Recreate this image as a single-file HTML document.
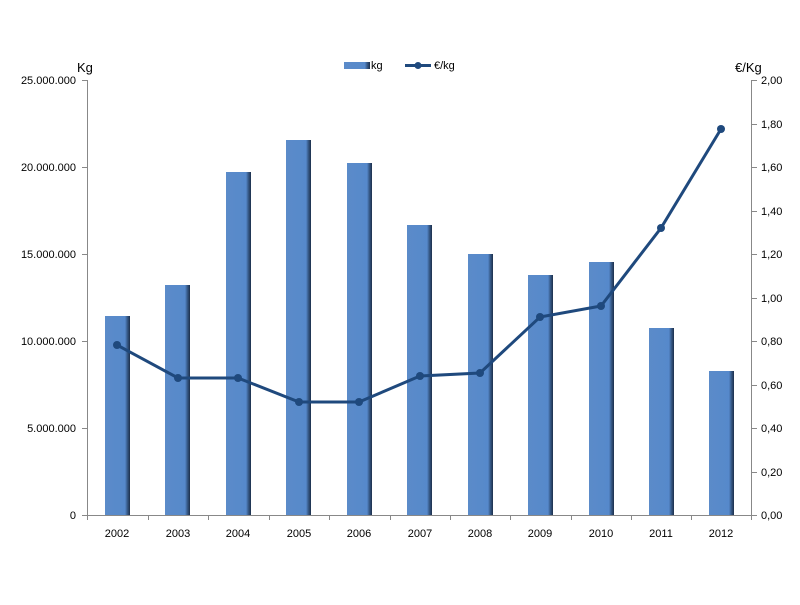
<!DOCTYPE html>
<html><head><meta charset="utf-8"><style>
body{margin:0;background:#fff}
text{font-family:"Liberation Sans",sans-serif;font-size:11px;fill:#000}
</style></head><body>
<svg width="800" height="600" xmlns="http://www.w3.org/2000/svg">
<defs>
<linearGradient id="g" x1="0" x2="1" y1="0" y2="0">
<stop offset="0" stop-color="#5b8bc9"/><stop offset="0.8" stop-color="#5689cb"/><stop offset="0.88" stop-color="#3a5f90"/><stop offset="1" stop-color="#1c2f4a"/>
</linearGradient>
</defs>
<g fill="url(#g)">
<rect x="105" y="316" width="25" height="199"/>
<rect x="165" y="285" width="25" height="230"/>
<rect x="226" y="172" width="25" height="343"/>
<rect x="286" y="140" width="25" height="375"/>
<rect x="347" y="163" width="25" height="352"/>
<rect x="407" y="225" width="25" height="290"/>
<rect x="468" y="254" width="25" height="261"/>
<rect x="528" y="275" width="25" height="240"/>
<rect x="589" y="262" width="25" height="253"/>
<rect x="649" y="328" width="25" height="187"/>
<rect x="709" y="371" width="25" height="144"/>
</g>
<g stroke="#888" stroke-width="1">
<line x1="87.5" y1="80" x2="87.5" y2="515"/>
<line x1="87" y1="515.5" x2="752" y2="515.5"/>
<line x1="751.5" y1="80" x2="751.5" y2="515"/>
<path d="M82 80.5h5M82 167.5h5M82 254.5h5M82 341.5h5M82 428.5h5M82 515.5h5"/>
<path d="M752 80.5h5M752 124.5h5M752 167.5h5M752 211.5h5M752 254.5h5M752 298.5h5M752 341.5h5M752 385.5h5M752 428.5h5M752 472.5h5M752 515.5h5"/>
<path d="M87.5 515v5M148.5 515v5M208.5 515v5M269.5 515v5M329.5 515v5M390.5 515v5M450.5 515v5M510.5 515v5M571.5 515v5M631.5 515v5M691.5 515v5M751.5 515v5"/>
</g>
<polyline fill="none" stroke="#1f497d" stroke-width="3" points="117,345 178,378 238,378 299,402 359,402 420,376 480,373 540,317 601,306 661,228 721,129"/>
<g fill="#1f497d">
<circle cx="117" cy="345" r="4"/><circle cx="178" cy="378" r="4"/><circle cx="238" cy="378" r="4"/><circle cx="299" cy="402" r="4"/><circle cx="359" cy="402" r="4"/><circle cx="420" cy="376" r="4"/><circle cx="480" cy="373" r="4"/><circle cx="540" cy="317" r="4"/><circle cx="601" cy="306" r="4"/><circle cx="661" cy="228" r="4"/><circle cx="721" cy="129" r="4"/>
</g>
<g text-anchor="end">
<text x="76" y="84">25.000.000</text><text x="76" y="171">20.000.000</text><text x="76" y="258">15.000.000</text><text x="76" y="345">10.000.000</text><text x="76" y="432">5.000.000</text><text x="76" y="519">0</text>
</g>
<g>
<text x="761" y="84">2,00</text><text x="761" y="128">1,80</text><text x="761" y="171">1,60</text><text x="761" y="215">1,40</text><text x="761" y="258">1,20</text><text x="761" y="302">1,00</text><text x="761" y="345">0,80</text><text x="761" y="389">0,60</text><text x="761" y="432">0,40</text><text x="761" y="476">0,20</text><text x="761" y="519">0,00</text>
</g>
<g text-anchor="middle">
<text x="117" y="537">2002</text><text x="178" y="537">2003</text><text x="238" y="537">2004</text><text x="299" y="537">2005</text><text x="359" y="537">2006</text><text x="420" y="537">2007</text><text x="480" y="537">2008</text><text x="540" y="537">2009</text><text x="601" y="537">2010</text><text x="661" y="537">2011</text><text x="721" y="537">2012</text>
</g>
<text x="77" y="72" style="font-size:13px">Kg</text>
<text x="735" y="72" style="font-size:13px">€/Kg</text>
<rect x="344" y="62" width="26" height="7" fill="url(#g)"/>
<text x="371" y="69">kg</text>
<line x1="405" y1="65.5" x2="431" y2="65.5" stroke="#1f497d" stroke-width="3"/>
<circle cx="418" cy="65.5" r="3.5" fill="#1f497d"/>
<text x="434" y="69">€/kg</text>
</svg>
</body></html>
